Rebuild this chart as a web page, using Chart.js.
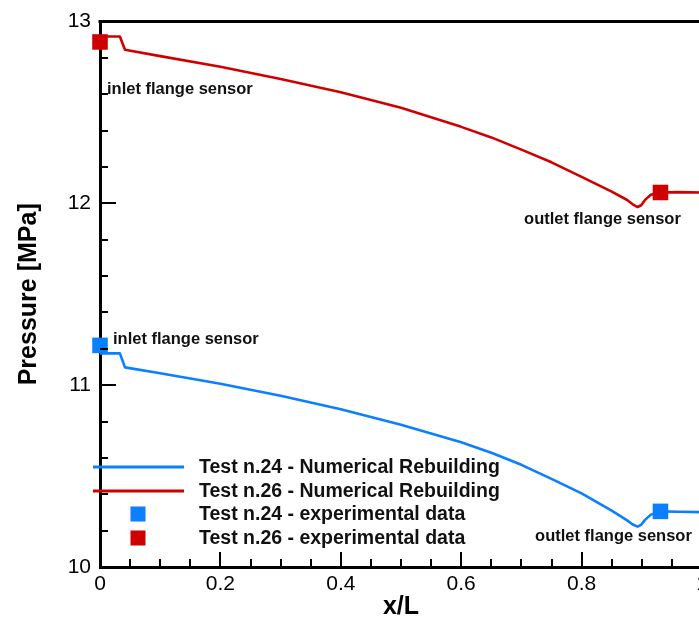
<!DOCTYPE html>
<html>
<head>
<meta charset="utf-8">
<script src="https://cdn.jsdelivr.net/npm/chart.js@4/dist/chart.umd.min.js"></script>
<style>
  html, body { margin: 0; padding: 0; background: #fff; overflow: hidden; }
  canvas { display: block; }
</style>
</head>
<body>
<canvas id="c" width="720" height="617"></canvas>
<script>
// Position along the line, x/L
const xPos = [0, 0.033, 0.0415, 0.1, 0.2, 0.3, 0.4, 0.5, 0.55, 0.6, 0.65, 0.7, 0.75, 0.8,
              0.85, 0.875, 0.885, 0.893, 0.899, 0.905, 0.915, 0.931, 0.96, 1.0];
// Numerical rebuilding, pressure [MPa]
const test24Num = [11.175, 11.175, 11.098, 11.066, 11.008, 10.942, 10.868, 10.782, 10.735, 10.686,
                   10.628, 10.562, 10.485, 10.405, 10.31, 10.258, 10.234, 10.222, 10.232, 10.258,
                   10.288, 10.306, 10.304, 10.302];
const test26Num = [12.918, 12.918, 12.845, 12.81, 12.752, 12.684, 12.611, 12.526, 12.474, 12.421,
                   12.363, 12.296, 12.226, 12.146, 12.065, 12.02, 11.995, 11.98, 11.99, 12.018,
                   12.048, 12.06, 12.062, 12.06];
// Flange sensors (inlet, outlet)
const sensorX = [0, 0.931];
const test24Exp = [11.219, 10.306];
const test26Exp = [12.888, 12.06];
const sensorNames = ['inlet flange sensor', 'outlet flange sensor'];

const seriesLabels = [
  'Test n.24 - Numerical Rebuilding',
  'Test n.26 - Numerical Rebuilding',
  'Test n.24 - experimental data',
  'Test n.26 - experimental data'
];

const BLUE = '#0a7fff';
const RED = '#d00000';
const FONT = '"Liberation Sans", Arial, Helvetica, sans-serif';

const pts = (xs, ys) => xs.map((x, i) => ({ x, y: ys[i] }));

// Sensor name placement: dataset index, point index, pixel offset from the point, text alignment
const sensorTags = [
  { ds: 3, i: 0, dx: 7,   dy: 47, align: 'left' },
  { ds: 2, i: 0, dx: 13,  dy: -6, align: 'left' },
  { ds: 3, i: 1, dx: -58, dy: 27, align: 'center' },
  { ds: 2, i: 1, dx: -47, dy: 25, align: 'center' }
];

const frameAndTicks = {
  id: 'frameAndTicks',
  afterDatasetsDraw(chart) {
    const { ctx, chartArea: a, scales: { x, y } } = chart;
    ctx.save();
    ctx.strokeStyle = '#000';
    ctx.lineCap = 'butt';
    ctx.lineWidth = 3;
    ctx.beginPath();
    ctx.moveTo(a.left - 1.5, a.top);
    ctx.lineTo(a.right, a.top);
    ctx.lineTo(a.right, a.bottom);
    ctx.stroke();

    ctx.lineWidth = 2;
    // inward ticks on the left axis: major every 1, minor every 0.2
    for (let k = 0; k <= 15; k++) {
      const v = 10 + k * 0.2;
      const py = Math.round(y.getPixelForValue(v));
      const len = (k % 5 === 0) ? 16 : 8;
      ctx.beginPath();
      ctx.moveTo(a.left, py);
      ctx.lineTo(a.left + len, py);
      ctx.stroke();
    }
    // inward ticks on the bottom axis: major every 0.2, minor every 0.05
    for (let k = 0; k <= 20; k++) {
      const v = k * 0.05;
      const px = Math.round(x.getPixelForValue(v));
      const len = (k % 4 === 0) ? 15 : 8;
      ctx.beginPath();
      ctx.moveTo(px, a.bottom);
      ctx.lineTo(px, a.bottom - len);
      ctx.stroke();
    }
    ctx.restore();
  },
  afterDraw(chart) {
    const { ctx, chartArea: a } = chart;
    ctx.save();
    // sensor names
    ctx.fillStyle = '#111';
    ctx.font = 'bold 16.5px ' + FONT;
    ctx.textBaseline = 'middle';
    sensorTags.forEach(t => {
      const el = chart.getDatasetMeta(t.ds).data[t.i];
      ctx.textAlign = t.align;
      ctx.fillText(sensorNames[t.i], el.x + t.dx, el.y + t.dy);
    });

    // legend inside the plot, lower left
    const rows = [a.bottom - 100, a.bottom - 76, a.bottom - 53, a.bottom - 29];
    chart.data.datasets.forEach((ds, k) => {
      const ry = rows[k];
      if (ds.showLine) {
        ctx.strokeStyle = ds.borderColor;
        ctx.lineWidth = 3;
        ctx.beginPath();
        ctx.moveTo(a.left - 7, ry);
        ctx.lineTo(a.left + 84, ry);
        ctx.stroke();
      } else {
        ctx.fillStyle = ds.backgroundColor;
        ctx.fillRect(a.left + 30.5, ry - 7.5, 15, 15);
      }
      ctx.fillStyle = '#111';
      ctx.font = 'bold 19.5px ' + FONT;
      ctx.textAlign = 'left';
      ctx.fillText(ds.label, a.left + 99, ry + 1);
    });
    ctx.restore();
  }
};

new Chart(document.getElementById('c'), {
  type: 'scatter',
  data: {
    datasets: [
      { label: seriesLabels[0], data: pts(xPos, test24Num), showLine: true, borderColor: BLUE,
        borderWidth: 2.6, pointRadius: 0, tension: 0, borderJoinStyle: 'round' },
      { label: seriesLabels[1], data: pts(xPos, test26Num), showLine: true, borderColor: RED,
        borderWidth: 2.6, pointRadius: 0, tension: 0, borderJoinStyle: 'round' },
      { label: seriesLabels[2], data: pts(sensorX, test24Exp), showLine: false, pointStyle: 'rect',
        pointRadius: 11, backgroundColor: BLUE, borderWidth: 0, clip: false },
      { label: seriesLabels[3], data: pts(sensorX, test26Exp), showLine: false, pointStyle: 'rect',
        pointRadius: 11, backgroundColor: RED, borderWidth: 0, clip: false }
    ]
  },
  options: {
    responsive: false,
    animation: false,
    devicePixelRatio: 1,
    layout: { padding: { top: 18, right: 18, left: 0, bottom: 0 } },
    plugins: { legend: { display: false }, tooltip: { enabled: false } },
    scales: {
      x: {
        type: 'linear', min: 0, max: 1,
        grid: { display: false, drawTicks: false, tickLength: 0 },
        border: { display: true, color: '#000', width: 3 },
        ticks: { stepSize: 0.2, padding: 5, color: '#000', font: { family: FONT, size: 21 },
                 maxRotation: 0, callback: v => String(+v.toFixed(1)) },
        title: { display: true, text: 'x/L', color: '#000',
                 font: { family: FONT, size: 25, weight: 'bold', lineHeight: 1 }, padding: { top: 0, bottom: -3 } },
        afterFit: s => { s.height = 50; }
      },
      y: {
        type: 'linear', min: 10, max: 13,
        grid: { display: false, drawTicks: false, tickLength: 0 },
        border: { display: true, color: '#000', width: 3 },
        ticks: { stepSize: 1, padding: 9, color: '#000', font: { family: FONT, size: 21 } },
        title: { display: true, text: 'Pressure [MPa]', color: '#000',
                 font: { family: FONT, size: 25, weight: 'bold', lineHeight: 1 }, padding: { top: 17, bottom: 0 } },
        afterFit: s => { s.width = 100; }
      }
    }
  },
  plugins: [frameAndTicks]
});
</script>
</body>
</html>
